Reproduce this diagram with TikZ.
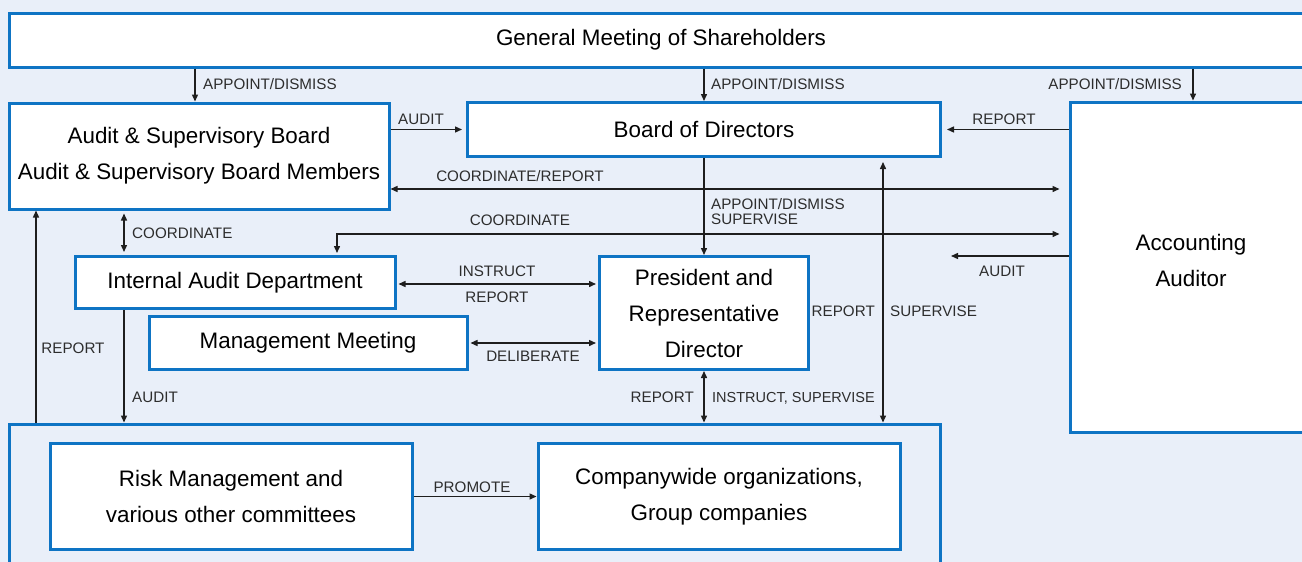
\documentclass[tikz,border=0pt]{standalone}
\usepackage{fontspec}
\setmainfont{Liberation Sans}
\usetikzlibrary{arrows.meta}
\definecolor{bgc}{RGB}{233,239,249}
\definecolor{bdc}{RGB}{14,116,196}
\definecolor{lblc}{RGB}{45,45,45}
\definecolor{arc}{RGB}{30,30,30}
\begin{document}
\begin{tikzpicture}[x=1pt,y=-1pt,
 box/.style={draw=bdc, line width=3pt, fill=white, inner sep=0pt, align=center, font=\fontsize{22.4}{36}\selectfont},
 boxtext/.style={inner sep=0pt, align=center, font=\fontsize{22.4}{36}\selectfont},
 lbl/.style={inner sep=0pt, text=lblc, text height=10.9pt, text depth=0pt, font=\fontsize{15.2}{15}\selectfont},
 arr/.style={-{Triangle[length=7pt,width=6pt]}, line width=1.4pt, draw=arc},
 darr/.style={{Triangle[length=7pt,width=6pt]}-{Triangle[length=7pt,width=6pt]}, line width=1.4pt, draw=arc}]
\useasboundingbox (0,0) rectangle (1302,562);
\clip (0,0) rectangle (1302,562);
\fill[bgc] (0,0) rectangle (1302,562);

% boxes
\node[box, minimum width=1304pt, minimum height=54pt] (gm) at (661,40) {General Meeting of Shareholders};
\node[box, minimum width=380pt, minimum height=106pt] (asb) at (199,156) {Audit \& Supervisory Board\\Audit \& Supervisory Board Members};
\node[box, minimum width=473pt, minimum height=54pt] (bod) at (704,129.5) {Board of Directors};
\node[box, minimum width=250pt, minimum height=330pt] (aa) at (1195,267) {};
\node[boxtext] (aatxt) at (1191,260) {Accounting\\Auditor};
\node[box, minimum width=320pt, minimum height=52pt] (iad) at (235,282.5) {Internal Audit Department};
\node[box, minimum width=318pt, minimum height=53pt] (mm) at (308,343) {Management Meeting};
\node[box, minimum width=209pt, minimum height=113pt] (pres) at (704,313) {President and\\Representative\\Director};
\node[box, fill=bgc, minimum width=931pt, minimum height=176pt] (grp) at (474.5,512) {};
\node[box, minimum width=362pt, minimum height=106pt] (risk) at (231,496.5) {Risk Management and\\various other committees};
\node[box, minimum width=362pt, minimum height=106pt] (comp) at (719,496.5) {Companywide organizations,\\Group companies};
\coordinate (auditend) at (951,256);

% connectors
\draw[arr] ([xshift=-466pt]gm.south) -- ([xshift=-4pt]asb.north);
\node[lbl, anchor=west] (l1) at (203,84) {APPOINT/DISMISS};
\draw[arr] (gm.south -| bod.north) -- (bod.north);
\node[lbl, anchor=west] (l2) at (711,84) {APPOINT/DISMISS};
\draw[arr] ([xshift=532pt]gm.south) -- ([xshift=-2pt]aa.north);
\node[lbl, anchor=east] (l3) at (1182,84) {APPOINT/DISMISS};

\draw[arr, shorten >=4pt] (asb.east |- bod.west) -- (bod.west);
\node[lbl] (l4) at (421,119) {AUDIT};
\draw[arr, shorten >=5pt] (aa.west |- bod.east) -- (bod.east);
\node[lbl] (l5) at (1004,119) {REPORT};

\draw[darr, shorten >=9pt] ([yshift=-33pt]asb.east) -- ([yshift=78pt]aa.west);
\node[lbl] (l6) at (520,176) {COORDINATE/REPORT};
\draw[darr, shorten <=2pt, shorten >=9pt] ([xshift=102pt]iad.north) |- ([yshift=33pt]aa.west);
\node[lbl] (l7) at (520,220) {COORDINATE};

\draw[arr] (bod.south) -- (pres.north);
\node[lbl, anchor=west] (l8) at (711,204) {APPOINT/DISMISS};
\node[lbl, anchor=west] (l9) at (711,219) {SUPERVISE};

\draw[arr] ([yshift=11pt]aa.west) -- (auditend);
\node[lbl] (l10) at (1002,271) {AUDIT};

\draw[darr, shorten <=4pt] ([xshift=179pt]bod.south) -- ([xshift=408.5pt]grp.north);
\node[lbl, anchor=east] (l11) at (875,311) {REPORT};
\node[lbl, anchor=west] (l12) at (890,311) {SUPERVISE};

\draw[darr, shorten <=3pt, shorten >=3pt] ([xshift=-75pt]asb.south) -- ([xshift=-111pt]iad.north);
\node[lbl, anchor=west] (l13) at (132,233) {COORDINATE};

\draw[darr, shorten <=2pt, shorten >=2pt] ([yshift=-1.5pt]iad.east) -- ([yshift=29pt]pres.west);
\node[lbl] (l14) at (497,271) {INSTRUCT};
\node[lbl] (l15) at (497,297) {REPORT};

\draw[darr, shorten <=2pt, shorten >=2pt] (mm.east) -- (mm.east -| pres.west);
\node[lbl] (l16) at (533,356) {DELIBERATE};

\draw[arr] ([xshift=-111pt]iad.south) -- ([xshift=-350.5pt]grp.north);
\node[lbl, anchor=west] (l17) at (132,397) {AUDIT};

\draw[arr] ([xshift=-438.5pt]grp.north) -- ([xshift=-163pt]asb.south);
\node[lbl] (l18) at (73,348) {REPORT};

\draw[darr] (pres.south) -- (pres.south |- grp.north);
\node[lbl, anchor=east] (l19) at (694,397) {REPORT};
\node[lbl, anchor=west, font=\fontsize{14.5}{15}\selectfont] (l20) at (712,397) {INSTRUCT, SUPERVISE};

\draw[arr] (risk.east) -- (comp.west);
\node[lbl] (l21) at (472,487) {PROMOTE};
\end{tikzpicture}
\end{document}
